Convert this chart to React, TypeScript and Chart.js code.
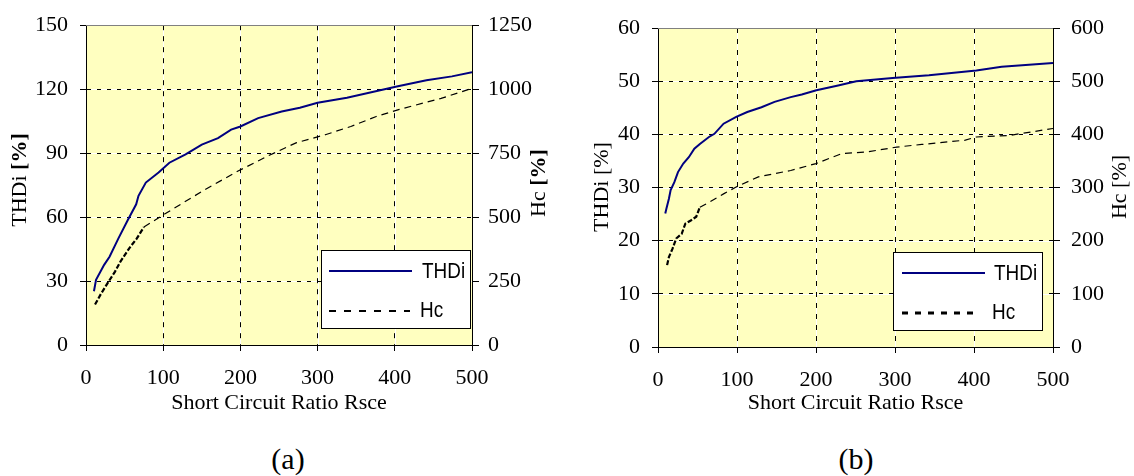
import React, { useEffect, useRef } from "react";
import { Chart, registerables } from "chart.js";

Chart.register(...registerables);

// ---------- data (a) ----------
const rsceA_THDi = [10.3, 13, 23.5, 30.5, 42, 54, 65, 68, 77.5, 94, 108, 129, 150, 171, 188, 200, 223, 253.5, 277, 300, 338, 404, 441, 474, 500];
const thdiA = [25.2, 30.6, 37.6, 41.4, 50, 58.5, 66, 70, 76.2, 80.9, 85.5, 89.4, 94, 97, 101, 102.5, 106.4, 109.5, 111.3, 113.6, 116, 121.4, 124.2, 126, 128];
const rsceA_Hc = [11.7, 18.8, 28, 37.6, 44.6, 56, 65.7, 75, 98.6, 127, 155, 197, 235, 272, 310, 343, 376, 406, 460, 500];
const hcA = [158, 197, 242, 287, 326, 378, 416, 461, 506, 558, 609, 680, 738, 790, 822, 854, 893, 921, 964, 1003];

// ---------- data (b) ----------
const rsceB_THDi = [9.2, 10.6, 13.8, 16, 20.7, 25.3, 32, 39, 46, 53, 64.5, 71.4, 83, 99, 113, 131, 147.5, 168, 182, 200.5, 228, 251, 297, 343, 403, 435, 500];
const thdiB = [25.1, 26, 27.9, 29.5, 31, 32.9, 34.5, 35.7, 37.3, 38.2, 39.5, 40.1, 42, 43.3, 44.2, 45.1, 46.1, 47, 47.5, 48.3, 49.2, 50, 50.6, 51.1, 52, 52.7, 53.4];
const rsceB_Hc = [11.5, 13.8, 18.4, 23, 30, 34.6, 41.5, 48.4, 53, 62, 83, 99, 127, 168, 200, 233, 265, 302, 334, 389, 403, 445, 500];
const hcB = [154, 169, 185, 204, 213, 232, 238, 245, 263, 270, 288, 301, 320, 332, 345, 364, 367, 376, 381, 389, 395, 398, 411];

// ---------- axes ----------
const xTicksMax = 500;
const xStep = 100;
const yA = { max: 150, step: 30 };
const y1A = { max: 1250, step: 250 };
const yB = { max: 60, step: 10 };
const y1B = { max: 600, step: 100 };

const xTitle = "Short Circuit Ratio Rsce";
const seriesNames = ["THDi", "Hc"];
const captions = ["(a)", "(b)"];

const SERIF = '"Liberation Serif", "Times New Roman", serif';
const SANS = '"Liberation Sans", Arial, sans-serif';
const BG = "#FFFFC0";
const NAVY = "#000080";

type Part = { t: string; bold?: boolean };

interface PanelCfg {
  xs1: number[]; ys1: number[]; xs2: number[]; ys2: number[];
  y: { max: number; step: number }; y1: { max: number; step: number };
  thickUntil: number;
  widths: { left: number; right: number; bottom: number; top: number };
  tickPad: { left: number; right: number; x: number };
  leftTitle: { cx: number; cy: number; parts: Part[] };
  rightTitle: { cx: number; cy: number; parts: Part[] };
  legend: {
    box: [number, number, number, number];
    l1: { y: number; x1: number; x2: number; tx: number; by: number };
    l2: { y: number; x1: number; x2: number; tx: number; by: number; dash: number[]; w: number };
  };
}

function drawParts(ctx: CanvasRenderingContext2D, parts: Part[], cx: number, cy: number, rotate: boolean) {
  ctx.save();
  ctx.translate(cx, cy);
  if (rotate) ctx.rotate(-Math.PI / 2);
  ctx.textBaseline = "middle";
  ctx.textAlign = "left";
  ctx.fillStyle = "#000";
  let total = 0;
  const ws = parts.map((p) => {
    ctx.font = `${p.bold ? "bold " : ""}22px ${SERIF}`;
    const w = ctx.measureText(p.t).width;
    total += w;
    return w;
  });
  let x = -total / 2;
  parts.forEach((p, i) => {
    ctx.font = `${p.bold ? "bold " : ""}22px ${SERIF}`;
    ctx.fillText(p.t, x, 0);
    x += ws[i];
  });
  ctx.restore();
}

function Panel({ cfg, left }: { cfg: PanelCfg; left: number }) {
  const ref = useRef<HTMLCanvasElement | null>(null);
  useEffect(() => {
    if (!ref.current) return;
    const decor = {
      id: "decor",
      beforeDraw(chart: any) {
        const { ctx, chartArea: a, scales } = chart;
        ctx.save();
        ctx.fillStyle = BG;
        ctx.fillRect(a.left, a.top, a.right - a.left, a.bottom - a.top);
        ctx.strokeStyle = "#ffffff";
        ctx.lineWidth = 1;
        for (let v = cfg.y.step; v < cfg.y.max; v += cfg.y.step) {
          const py = Math.round(scales.y.getPixelForValue(v)) + 0.5;
          ctx.beginPath(); ctx.moveTo(a.left, py); ctx.lineTo(a.right, py); ctx.stroke();
        }
        for (let v = xStep; v < xTicksMax; v += xStep) {
          const px = Math.round(scales.x.getPixelForValue(v)) + 0.5;
          ctx.beginPath(); ctx.moveTo(px, a.top); ctx.lineTo(px, a.bottom); ctx.stroke();
        }
        ctx.restore();
      },
      afterDraw(chart: any) {
        const { ctx, chartArea: a } = chart;
        ctx.save();
        ctx.strokeStyle = "#808080";
        ctx.lineWidth = 1;
        ctx.beginPath();
        ctx.moveTo(a.left, Math.round(a.top) + 0.5);
        ctx.lineTo(a.right, Math.round(a.top) + 0.5);
        ctx.stroke();
        const L = cfg.legend;
        const [bx1, by1, bx2, by2] = L.box;
        ctx.fillStyle = "#ffffff";
        ctx.fillRect(bx1, by1, bx2 - bx1, by2 - by1);
        ctx.strokeStyle = "#000";
        ctx.lineWidth = 1;
        ctx.strokeRect(bx1 + 0.5, by1 + 0.5, bx2 - bx1, by2 - by1);
        ctx.strokeStyle = NAVY;
        ctx.lineWidth = 2;
        ctx.setLineDash([]);
        ctx.beginPath(); ctx.moveTo(L.l1.x1, L.l1.y); ctx.lineTo(L.l1.x2, L.l1.y); ctx.stroke();
        ctx.strokeStyle = "#000";
        ctx.lineWidth = L.l2.w;
        ctx.setLineDash(L.l2.dash);
        ctx.beginPath(); ctx.moveTo(L.l2.x1, L.l2.y); ctx.lineTo(L.l2.x2, L.l2.y); ctx.stroke();
        ctx.setLineDash([]);
        ctx.fillStyle = "#000";
        ctx.font = `22px ${SANS}`;
        ctx.textBaseline = "alphabetic";
        ctx.textAlign = "left";
        [[seriesNames[0], L.l1.tx, L.l1.by], [seriesNames[1], L.l2.tx, L.l2.by]].forEach(([t, x, y]: any) => {
          ctx.save();
          ctx.translate(x, y);
          ctx.scale(0.86, 1);
          ctx.fillText(t, 0, 0);
          ctx.restore();
        });
        ctx.restore();
        drawParts(ctx, cfg.leftTitle.parts, cfg.leftTitle.cx, cfg.leftTitle.cy, true);
        drawParts(ctx, cfg.rightTitle.parts, cfg.rightTitle.cx, cfg.rightTitle.cy, true);
        drawParts(ctx, [{ t: xTitle }], (a.left + a.right) / 2, 403, false);
      },
    };

    const tickFont = { family: SERIF, size: 22 };
    const plain = (v: any) => String(v);
    const chart = new Chart(ref.current, {
      type: "line",
      data: {
        datasets: [
          {
            label: seriesNames[0],
            data: cfg.xs1.map((x, i) => ({ x, y: cfg.ys1[i] })),
            borderColor: NAVY,
            borderWidth: 2,
            pointRadius: 0,
            tension: 0,
            yAxisID: "y",
          },
          {
            label: seriesNames[1],
            data: cfg.xs2.map((x, i) => ({ x, y: cfg.ys2[i] })),
            borderColor: "#000",
            borderWidth: 1.2,
            borderDash: [7, 5],
            pointRadius: 0,
            tension: 0,
            yAxisID: "y1",
            segment: {
              borderWidth: (c: any) => (c.p0.parsed.x < cfg.thickUntil ? 2.2 : 1.2),
              borderDash: (c: any) => (c.p0.parsed.x < cfg.thickUntil ? [5, 2] : [7, 5]),
            },
          },
        ],
      },
      options: {
        animation: false,
        responsive: false,
        devicePixelRatio: 1,
        layout: { padding: { top: cfg.widths.top, left: 0, right: 0, bottom: 0 } },
        plugins: { legend: { display: false }, tooltip: { enabled: false } },
        scales: {
          x: {
            type: "linear",
            min: 0,
            max: xTicksMax,
            ticks: { stepSize: xStep, font: tickFont, color: "#000", padding: cfg.tickPad.x, maxRotation: 0, callback: plain },
            grid: { color: "#000", lineWidth: 1, tickColor: "#000", tickBorderDash: [], tickLength: 6 },
            border: { display: true, color: "#000", width: 1, dash: [5, 6] },
            afterFit: (s: any) => { s.height = cfg.widths.bottom; },
          },
          y: {
            type: "linear",
            position: "left",
            min: 0,
            max: cfg.y.max,
            ticks: { stepSize: cfg.y.step, font: tickFont, color: "#000", padding: cfg.tickPad.left, callback: plain },
            grid: { color: "#000", lineWidth: 1, tickColor: "#000", tickBorderDash: [], tickLength: 6 },
            border: { display: true, color: "#000", width: 1, dash: [4, 6] },
            afterFit: (s: any) => { s.width = cfg.widths.left; },
          },
          y1: {
            type: "linear",
            position: "right",
            min: 0,
            max: cfg.y1.max,
            ticks: { stepSize: cfg.y1.step, font: tickFont, color: "#000", padding: cfg.tickPad.right, callback: plain },
            grid: { drawOnChartArea: false, color: "#000", tickColor: "#000", tickBorderDash: [], tickLength: 7 },
            border: { display: true, color: "#000", width: 1 },
            afterFit: (s: any) => { s.width = cfg.widths.right; },
          },
        },
      },
      plugins: [decor],
    } as any);
    return () => chart.destroy();
  }, [cfg]);
  return (
    <div style={{ position: "absolute", left, top: 0, width: 567, height: 420 }}>
      <canvas ref={ref} width={567} height={420} style={{ width: 567, height: 420, display: "block" }} />
    </div>
  );
}

const cfgA: PanelCfg = {
  xs1: rsceA_THDi, ys1: thdiA, xs2: rsceA_Hc, ys2: hcA,
  y: yA, y1: y1A,
  thickUntil: 75,
  widths: { left: 86, right: 95, bottom: 75, top: 21 },
  tickPad: { left: 12, right: 9, x: 14 },
  leftTitle: { cx: 20, cy: 180, parts: [{ t: "THDi " }, { t: "[%]", bold: true }] },
  rightTitle: { cx: 539, cy: 183, parts: [{ t: "Hc " }, { t: "[%]", bold: true }] },
  legend: {
    box: [321, 250, 470, 328],
    l1: { y: 271, x1: 329, x2: 412, tx: 422, by: 278 },
    l2: { y: 311, x1: 329, x2: 410, tx: 420, by: 317, dash: [7, 8], w: 2 },
  },
};

const cfgB: PanelCfg = {
  xs1: rsceB_THDi, ys1: thdiB, xs2: rsceB_Hc, ys2: hcB,
  y: yB, y1: y1B,
  thickUntil: 53,
  widths: { left: 91, right: 81, bottom: 73, top: 28 },
  tickPad: { left: 12, right: 11, x: 14 },
  leftTitle: { cx: 35, cy: 187, parts: [{ t: "THDi [%]" }] },
  rightTitle: { cx: 553, cy: 187, parts: [{ t: "Hc [%]" }] },
  legend: {
    box: [326, 252, 475, 330],
    l1: { y: 273, x1: 335, x2: 418, tx: 427, by: 280 },
    l2: { y: 313, x1: 335, x2: 413, tx: 425, by: 319, dash: [6, 7], w: 3 },
  },
};

export default function App() {
  const cap: React.CSSProperties = {
    position: "absolute",
    top: 444,
    fontFamily: SERIF,
    fontSize: 30,
    lineHeight: "30px",
    color: "#000",
    transform: "translateX(-50%)",
    whiteSpace: "nowrap",
  };
  return (
    <div style={{ position: "absolute", left: 0, top: 0, width: 1134, height: 476, background: "#fff", overflow: "hidden" }}>
      <Panel cfg={cfgA} left={0} />
      <Panel cfg={cfgB} left={567} />
      <div style={{ ...cap, left: 288 }}>{captions[0]}</div>
      <div style={{ ...cap, left: 856 }}>{captions[1]}</div>
    </div>
  );
}
